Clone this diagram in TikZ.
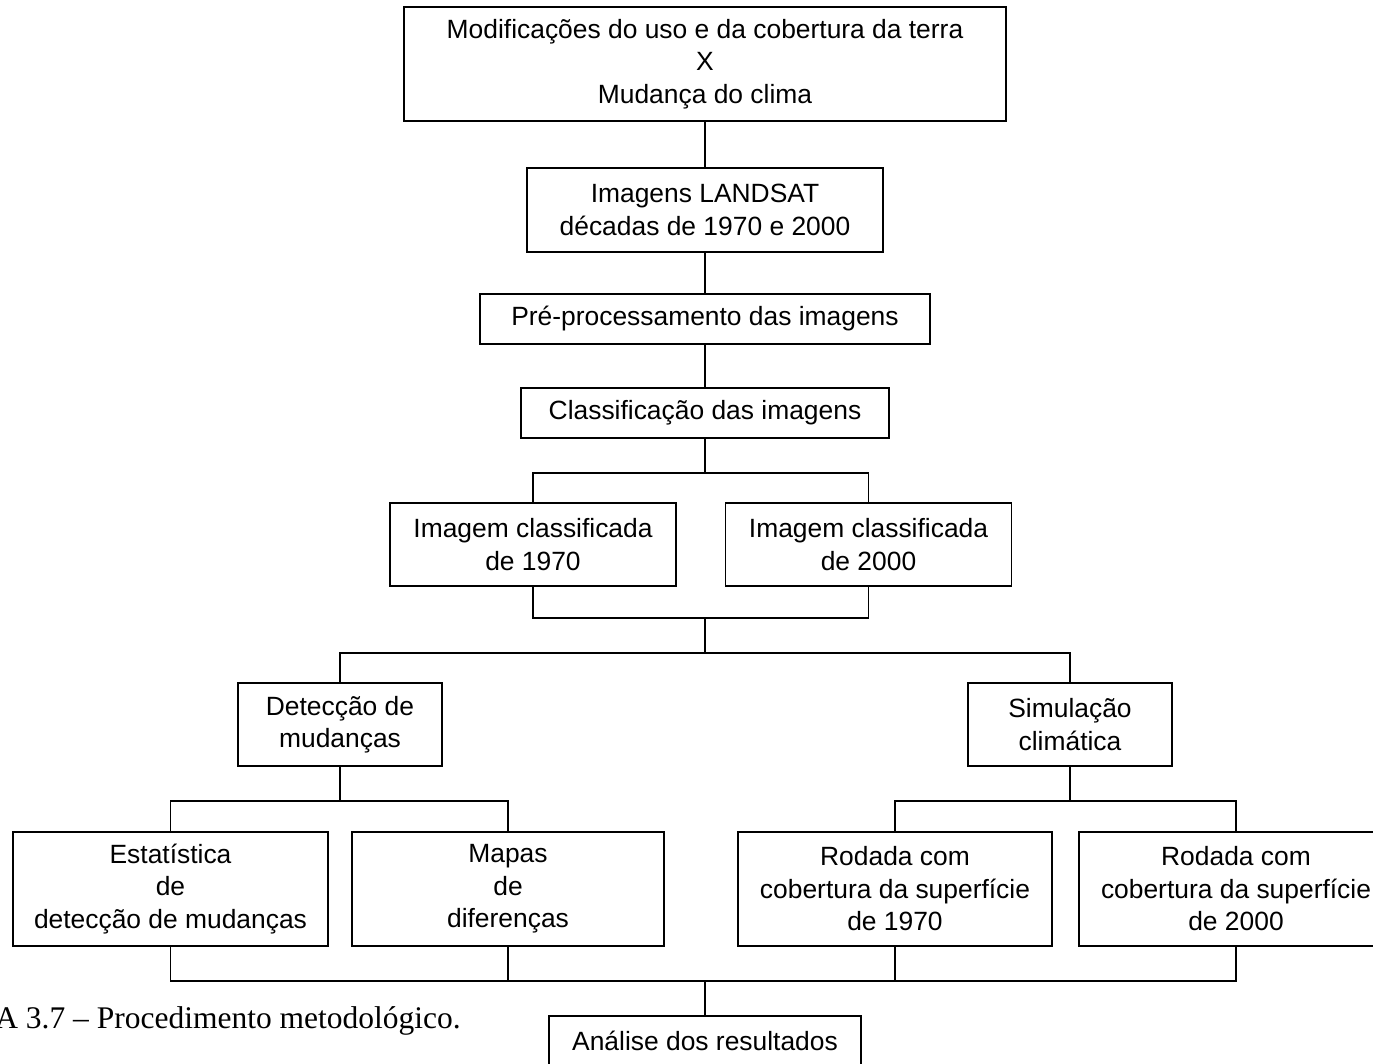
\documentclass[tikz,border=0pt]{standalone}
\usepackage{fontspec}
\setmainfont{Liberation Sans}
\newfontfamily\legendafont{Liberation Serif}
\usetikzlibrary{positioning, calc}

\begin{document}
\begin{tikzpicture}[x=1pt, y=-1pt,
        box/.style={draw, line width=1.8pt, inner sep=0pt, align=center,
            font=\fontsize{26.4}{32.5}\selectfont},
        link/.style={line width=1.8pt}]
    \useasboundingbox (0,0) rectangle (1373,1064);

    % coluna central
    \node[box, minimum width=602pt, minimum height=114pt] (tema) at (705,64)
        {Modificações do uso e da cobertura da terra\\X\\Mudança do clima};
    \node[box, minimum width=356pt, minimum height=84pt] (landsat) at (705,210)
        {Imagens LANDSAT\\décadas de 1970 e 2000};
    \node[box, minimum width=450pt, minimum height=50pt] (preproc) at (705,319)
        {Pré-processamento das imagens};
    \node[box, minimum width=368pt, minimum height=50pt] (classif) at (705,413)
        {Classificação das imagens};

    % imagens classificadas
    \node[box, minimum width=286pt, minimum height=83pt] (img70) at (533,544.5)
        {Imagem classificada\\de 1970};
    \node[box, minimum width=286pt, minimum height=83pt] (img00) at (868.5,544.5)
        {Imagem classificada\\de 2000};

    % ramos
    \node[box, minimum width=204pt, minimum height=83pt] (detec) at (340,724.5)
        {Detecção de\\mudanças};
    \node[box, minimum width=204pt, minimum height=83pt] (simul) at (1070,724.5)
        {Simulação\\climática};

    \node[box, minimum width=315pt, minimum height=114pt] (estat) at (170.5,889)
        {Estatística\\de\\detecção de mudanças};
    \node[box, minimum width=312pt, minimum height=114pt] (mapas) at (508,889)
        {Mapas\\de\\diferenças};
    \node[box, minimum width=314pt, minimum height=114pt] (rod70) at (895,889)
        {Rodada com\\cobertura da superfície\\de 1970};
    \node[box, minimum width=314pt, minimum height=114pt] (rod00) at (1236,889)
        {Rodada com\\cobertura da superfície\\de 2000};

    \node[box, minimum width=312pt, minimum height=50pt] (analise) at (705,1041)
        {Análise dos resultados};

    \node[font=\legendafont\fontsize{31.5}{36}\selectfont, anchor=base east, inner sep=0pt]
        (legenda) at (461,1028) {A 3.7 – Procedimento metodológico.};

    % junções
    \coordinate (j1) at (705,473);
    \coordinate (j2) at (705,618);
    \coordinate (j3) at (705,653);
    \coordinate (j4) at (340,801);
    \coordinate (j5) at (1070,801);
    \coordinate (j6) at (705,981);

    \draw[link] (tema) -- (landsat);
    \draw[link] (landsat) -- (preproc);
    \draw[link] (preproc) -- (classif);
    \draw[link] (classif.south) -- (j1);
    \draw[link] (img70.north) -- (img70.north |- j1) -- (img00.north |- j1) -- (img00.north);
    \draw[link] (img70.south) -- (img70.south |- j2) -- (img00.south |- j2) -- (img00.south);
    \draw[link] (j2) -- (j3);
    \draw[link] (detec.north) -- (detec.north |- j3) -- (simul.north |- j3) -- (simul.north);
    \draw[link] (detec.south) -- (j4);
    \draw[link] (estat.north) -- (estat.north |- j4) -- (mapas.north |- j4) -- (mapas.north);
    \draw[link] (simul.south) -- (j5);
    \draw[link] (rod70.north) -- (rod70.north |- j5) -- (rod00.north |- j5) -- (rod00.north);
    \draw[link] (estat.south) -- (estat.south |- j6) -- (rod00.south |- j6) -- (rod00.south);
    \draw[link] (mapas.south) -- (mapas.south |- j6);
    \draw[link] (rod70.south) -- (rod70.south |- j6);
    \draw[link] (j6) -- (analise.north);
\end{tikzpicture}
\end{document}
